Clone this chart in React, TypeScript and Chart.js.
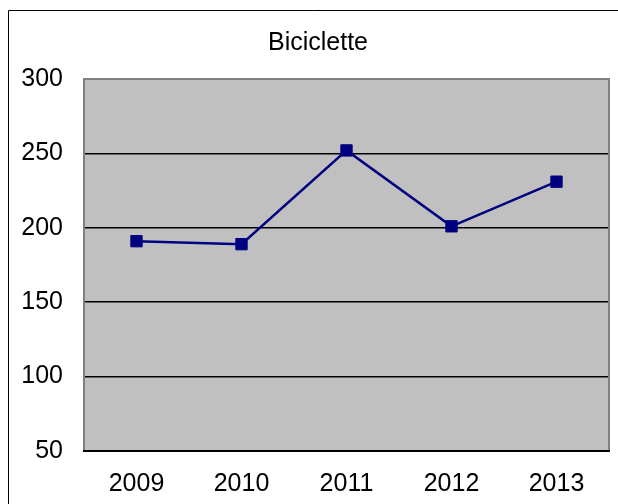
import React, { useEffect, useRef } from "react";
import { Chart, registerables } from "chart.js";

Chart.register(...registerables);

const title = "Biciclette";
const years = ["2009", "2010", "2011", "2012", "2013"];
const values = [191, 189, 252, 201, 231];
const yTicks = [50, 100, 150, 200, 250, 300];

const FONT = '"Liberation Sans", Arial, sans-serif';

const framePlugin = {
  id: "frame",
  beforeDraw(chart: any) {
    const { ctx, chartArea } = chart;
    ctx.save();
    ctx.fillStyle = "#ffffff";
    ctx.fillRect(0, 0, chart.width, chart.height);
    // outer border
    ctx.strokeStyle = "#000000";
    ctx.lineWidth = 1;
    ctx.beginPath();
    ctx.moveTo(8.5, chart.height);
    ctx.lineTo(8.5, 10.5);
    ctx.lineTo(chart.width, 10.5);
    ctx.stroke();
    // plot background
    ctx.fillStyle = "#c0c0c0";
    ctx.fillRect(chartArea.left, chartArea.top, chartArea.right - chartArea.left, chartArea.bottom - chartArea.top);
    // title
    ctx.fillStyle = "#000000";
    ctx.font = "25px " + FONT;
    ctx.textAlign = "center";
    ctx.textBaseline = "middle";
    ctx.fillText(title, 318, 43);
    ctx.restore();
  },
  beforeDatasetsDraw(chart: any) {
    const { ctx, chartArea } = chart;
    ctx.save();
    ctx.strokeStyle = "#808080";
    ctx.lineWidth = 2;
    ctx.beginPath();
    ctx.moveTo(chartArea.left, chartArea.bottom);
    ctx.lineTo(chartArea.left, chartArea.top);
    ctx.lineTo(chartArea.right, chartArea.top);
    ctx.lineTo(chartArea.right, chartArea.bottom);
    ctx.stroke();
    ctx.strokeStyle = "#000000";
    ctx.lineWidth = 2;
    ctx.beginPath();
    ctx.moveTo(chartArea.left - 1, chartArea.bottom);
    ctx.lineTo(chartArea.right + 1, chartArea.bottom);
    ctx.stroke();
    ctx.restore();
  },
};

export default function App() {
  const ref = useRef<HTMLCanvasElement>(null);
  useEffect(() => {
    if (!ref.current) return;
    const chart = new Chart(ref.current, {
      type: "line",
      data: {
        labels: years,
        datasets: [
          {
            data: values,
            borderColor: "#000080",
            backgroundColor: "#000080",
            borderWidth: 2.5,
            pointStyle: "rect",
            pointRadius: 8,
            pointBorderWidth: 1,
            pointBorderColor: "#000080",
            pointBackgroundColor: "#000080",
            tension: 0,
          },
        ],
      },
      options: {
        responsive: false,
        animation: false,
        layout: { padding: { left: 0, right: 9, top: 79, bottom: 0 } },
        plugins: { legend: { display: false }, title: { display: false }, tooltip: { enabled: false } },
        scales: {
          x: {
            offset: true,
            grid: { display: false, drawTicks: false },
            border: { display: false },
            ticks: { color: "#000", font: { family: FONT, size: 25 }, padding: 18, maxRotation: 0 },
            afterFit(scale: any) {
              scale.height = 53;
            },
          },
          y: {
            min: 50,
            max: 300,
            afterBuildTicks(scale: any) {
              scale.ticks = yTicks.map((v) => ({ value: v }));
            },
            grid: {
              drawTicks: false,
              color: (c: any) => (c.tick && (c.tick.value === 300 || c.tick.value === 50) ? "rgba(0,0,0,0)" : "#000000"),
              lineWidth: 1.5,
            },
            border: { display: false },
            ticks: { color: "#000", font: { family: FONT, size: 25 }, padding: 21 },
            afterFit(scale: any) {
              scale.width = 84;
            },
          },
        },
      },
      plugins: [framePlugin],
    });
    return () => chart.destroy();
  }, []);
  return (
    <canvas
      ref={ref}
      width={618}
      height={504}
      style={{ position: "absolute", left: 0, top: 0, display: "block" }}
    />
  );
}
